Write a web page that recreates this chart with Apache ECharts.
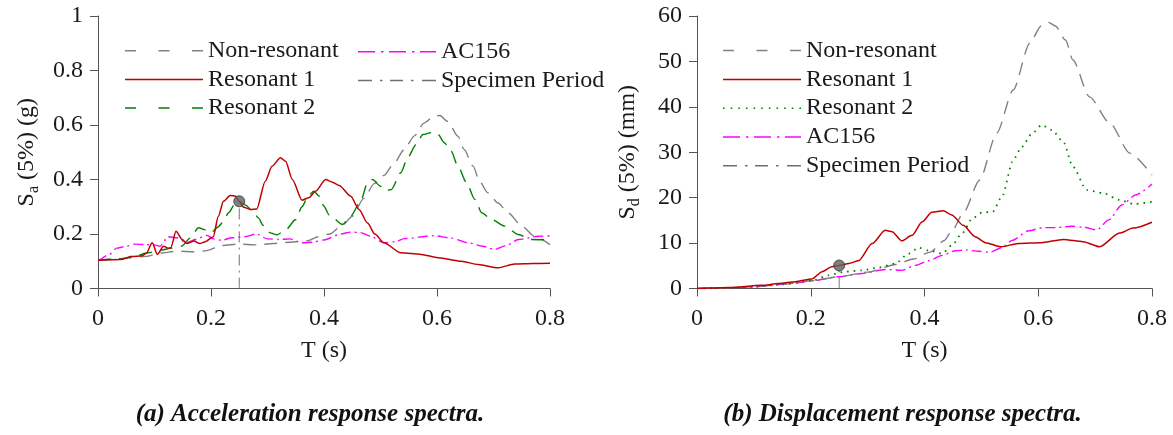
<!DOCTYPE html>
<html>
<head>
<meta charset="utf-8">
<script src="https://cdn.jsdelivr.net/npm/echarts@6/dist/echarts.min.js"></script>
<style>
html,body{margin:0;padding:0;background:#fff;}
#a{position:absolute;left:0;top:0;width:650px;height:435px;z-index:2;}
#b{position:absolute;left:598px;top:0;width:575px;height:435px;z-index:1;}
</style>
</head>
<body>
<div id="a"></div>
<div id="b"></div>
<script>
// ---------- data (T in s) ----------
const xTicks = [0, 0.2, 0.4, 0.6, 0.8];

// (a) Acceleration response spectra, Sa (g)
const accNonRes = [[0,0.105],[0.03,0.108],[0.06,0.113],[0.085,0.118],[0.11,0.13],[0.14,0.137],[0.17,0.135],[0.19,0.138],[0.22,0.158],[0.25,0.163],[0.28,0.16],[0.31,0.165],[0.34,0.17],[0.37,0.175],[0.39,0.19],[0.41,0.2],[0.434,0.235],[0.45,0.265],[0.47,0.33],[0.489,0.385],[0.506,0.415],[0.524,0.46],[0.542,0.51],[0.56,0.56],[0.577,0.607],[0.595,0.633],[0.605,0.635],[0.619,0.613],[0.637,0.559],[0.648,0.51],[0.664,0.449],[0.675,0.394],[0.69,0.351],[0.708,0.314],[0.726,0.278],[0.75,0.229],[0.773,0.192],[0.8,0.161]];
const accRes1 = [[0,0.104],[0.04,0.106],[0.06,0.117],[0.078,0.12],[0.085,0.128],[0.096,0.168],[0.105,0.125],[0.116,0.155],[0.124,0.148],[0.129,0.15],[0.138,0.21],[0.149,0.18],[0.157,0.165],[0.17,0.174],[0.18,0.165],[0.19,0.172],[0.204,0.19],[0.213,0.265],[0.222,0.32],[0.234,0.341],[0.243,0.339],[0.25,0.32],[0.258,0.298],[0.27,0.29],[0.281,0.292],[0.296,0.394],[0.308,0.449],[0.323,0.48],[0.332,0.467],[0.344,0.4],[0.361,0.324],[0.373,0.333],[0.385,0.357],[0.403,0.4],[0.415,0.39],[0.427,0.378],[0.447,0.339],[0.462,0.29],[0.477,0.24],[0.49,0.2],[0.506,0.168],[0.536,0.131],[0.572,0.125],[0.602,0.113],[0.643,0.1],[0.673,0.088],[0.708,0.076],[0.738,0.09],[0.77,0.092],[0.8,0.093]];
const accRes2 = [[0,0.104],[0.04,0.109],[0.065,0.12],[0.089,0.131],[0.11,0.14],[0.13,0.148],[0.148,0.155],[0.163,0.185],[0.178,0.223],[0.19,0.215],[0.2,0.205],[0.212,0.225],[0.222,0.245],[0.231,0.278],[0.243,0.312],[0.252,0.317],[0.262,0.305],[0.273,0.284],[0.284,0.259],[0.292,0.232],[0.305,0.204],[0.317,0.197],[0.332,0.215],[0.35,0.253],[0.361,0.3],[0.373,0.343],[0.382,0.357],[0.391,0.34],[0.4,0.302],[0.409,0.27],[0.433,0.235],[0.447,0.265],[0.465,0.32],[0.477,0.389],[0.486,0.4],[0.5,0.375],[0.51,0.36],[0.519,0.363],[0.536,0.425],[0.548,0.48],[0.563,0.528],[0.575,0.565],[0.59,0.572],[0.602,0.565],[0.613,0.535],[0.625,0.504],[0.637,0.449],[0.652,0.389],[0.667,0.327],[0.679,0.278],[0.697,0.253],[0.72,0.229],[0.744,0.198],[0.767,0.18],[0.8,0.178]];
const accAC156 = [[0,0.1],[0.02,0.125],[0.033,0.148],[0.05,0.155],[0.065,0.163],[0.086,0.161],[0.1,0.16],[0.11,0.155],[0.124,0.19],[0.139,0.186],[0.157,0.168],[0.172,0.18],[0.193,0.195],[0.204,0.182],[0.219,0.177],[0.237,0.186],[0.26,0.19],[0.28,0.2],[0.3,0.182],[0.32,0.18],[0.34,0.182],[0.36,0.168],[0.38,0.17],[0.4,0.178],[0.43,0.2],[0.447,0.207],[0.465,0.205],[0.482,0.192],[0.506,0.168],[0.527,0.172],[0.542,0.183],[0.595,0.194],[0.625,0.185],[0.655,0.168],[0.681,0.155],[0.702,0.143],[0.723,0.158],[0.744,0.18],[0.78,0.192],[0.8,0.193]];
const accSpecimen = [[0.25,0],[0.25,0.32]];

// (b) Displacement response spectra, Sd (mm)
const dispNonRes = [[0,0],[0.05,0.1],[0.1,0.4],[0.15,0.9],[0.2,1.7],[0.25,2.6],[0.3,3.6],[0.35,5.3],[0.38,6.5],[0.41,8],[0.434,10.5],[0.448,12.6],[0.468,16.6],[0.497,23.9],[0.527,34.2],[0.556,43.7],[0.585,54],[0.605,57.8],[0.618,58.6],[0.63,57.8],[0.648,54.7],[0.661,50.3],[0.69,42.2],[0.726,36.4],[0.761,29.8],[0.8,25]];
const dispRes1 = [[0,0],[0.056,0.2],[0.114,0.7],[0.144,1.1],[0.173,1.5],[0.202,2.1],[0.22,3.7],[0.237,4.8],[0.25,5.07],[0.267,5.5],[0.284,6.1],[0.308,9.9],[0.331,12.8],[0.343,12.5],[0.36,10.5],[0.378,11.7],[0.396,14.7],[0.413,16.8],[0.433,17.1],[0.448,16.2],[0.468,13.9],[0.489,11.4],[0.507,10.1],[0.535,9.2],[0.565,9.9],[0.605,10.1],[0.644,10.8],[0.679,10.3],[0.708,9.2],[0.743,12.2],[0.767,13.3],[0.8,14.6]];
const dispRes2 = [[0,0],[0.05,0.1],[0.1,0.4],[0.15,0.9],[0.202,1.7],[0.231,2.9],[0.26,3.7],[0.29,4.0],[0.319,4.6],[0.349,5.5],[0.372,7.7],[0.39,9.0],[0.407,8.4],[0.431,7.7],[0.448,9.5],[0.466,12.1],[0.484,15.4],[0.501,16.7],[0.52,16.9],[0.536,20.2],[0.556,28.3],[0.571,31.2],[0.589,34.1],[0.606,36.0],[0.624,34.9],[0.644,32.3],[0.661,26.8],[0.685,21.7],[0.714,21.0],[0.743,19.5],[0.767,18.6],[0.8,19.1]];
const dispAC156 = [[0,0],[0.05,0.1],[0.1,0.35],[0.173,1.2],[0.202,1.7],[0.249,2.6],[0.29,3.3],[0.331,4.2],[0.36,4.0],[0.384,5.1],[0.407,6.1],[0.431,7.3],[0.454,8.3],[0.474,8.5],[0.495,8.2],[0.515,8.0],[0.536,9.0],[0.554,10.6],[0.583,12.7],[0.607,13.4],[0.63,13.4],[0.659,13.7],[0.68,13.5],[0.703,12.9],[0.724,15.1],[0.747,18.4],[0.771,20.6],[0.8,23]];
const dispSpecimen = [[0.25,0],[0.25,5.07]];

// ---------- styling ----------
const FONT = '"Liberation Serif", "Times New Roman", serif';
const TXT = '#1a1a1a';
const AX = '#555';
const C = {nonres:'#808080', res1:'#c00000', res2:'#008000', ac:'#ff00ff', spec:'#707070'};

function xAxisOpt(){
  return {
    type:'value', min:0, max:0.8, interval:0.2,
    name:'T (s)', nameLocation:'middle', nameGap:50,
    nameTextStyle:{fontFamily:FONT, fontSize:24, color:TXT},
    axisLine:{show:true, onZero:false, lineStyle:{color:AX, width:1}},
    axisTick:{show:true, inside:false, length:8, lineStyle:{color:AX}},
    axisLabel:{fontFamily:FONT, fontSize:24, color:TXT, margin:18},
    splitLine:{show:false}
  };
}
function yAxisOpt(max, interval, name){
  return {
    type:'value', min:0, max:max, interval:interval,
    name:name, nameLocation:'middle', nameGap:54,
    nameTextStyle:{fontFamily:FONT, fontSize:24, color:TXT,
      rich:{m:{fontFamily:FONT, fontSize:24, color:TXT},
            s:{fontFamily:FONT, fontSize:16, color:TXT, padding:[14,0,0,0]}}},
    axisLine:{show:true, lineStyle:{color:AX, width:1}},
    axisTick:{show:true, inside:false, length:8, lineStyle:{color:AX}},
    axisLabel:{fontFamily:FONT, fontSize:24, color:TXT, margin:15},
    splitLine:{show:false}
  };
}
function lineSeries(name, data, color, type, width, z){
  return {type:'line', name:name, data:data, symbol:'none', smooth:0.25, smoothMonotone:'x',
    lineStyle:{color:color, width:width, type:type}, itemStyle:{color:color}, z:z||2,
    emphasis:{disabled:true}, animation:false};
}
function markerSeries(pt){
  return {type:'scatter', name:'marker', data:[pt], symbol:'circle', symbolSize:11,
    itemStyle:{color:'#5f5f5f', borderColor:'#333', borderWidth:1}, z:10, animation:false};
}

// legend icon shapes (segments [start, length] along a 78 px wide key)
function segPath(segs){
  return 'path://' + segs.map(s => 'M' + s[0] + ',0h' + s[1] + 'v1.5h-' + s[1] + 'z').join('');
}
const ICON_SOLID = segPath([[0,78]]);
const ICON_DASH = segPath([[0,11],[33.5,11],[67,11]]);
const ICON_DASHDOT = segPath([[0,17],[23,2.5],[31,17],[54,2.5],[62,16]]);
const ICON_SPEC = segPath([[0,14],[22,2.5],[32,13],[53,2.5],[64,14]]);
const ICON_DOT = segPath(Array.from({length:11}, (_, i) => [i * 7.64, 1.6]));

// one legend component per entry so each carries its own key pattern
function legendItem(left, top, name, icon, color){
  return {show:true, orient:'vertical', left:left, top:top, padding:0, itemGap:0,
    itemWidth:78, itemHeight:1.5, selectedMode:false,
    icon:icon, itemStyle:{color:color, borderWidth:0},
    textStyle:{fontFamily:FONT, fontSize:24, color:TXT, lineHeight:28.6},
    data:[name]};
}
function caption(x, text){
  return {type:'text', x:x, y:415, style:{text:text, fontFamily:FONT, fontSize:25,
    fontWeight:'bold', fontStyle:'italic', fill:'#111', align:'center', verticalAlign:'middle'}};
}

const DASH = [13, 8], DASHDOT = [10, 4, 2, 4], SPECDASH = [11, 5, 2, 5], DOT = [1.6, 5];

// ---------- chart (a) ----------
const chartA = echarts.init(document.getElementById('a'), null, {renderer:'canvas'});
chartA.setOption({
  backgroundColor:'transparent', animation:false,
  grid:{left:98, top:16, width:452, height:272.5, containLabel:false},
  xAxis: xAxisOpt(),
  yAxis: yAxisOpt(1, 0.2, '{m|S}{s|a}{m| (5%) (g)}'),
  legend:[
    legendItem(125, 36.5, 'Non-resonant', ICON_DASH, C.nonres),
    legendItem(125, 65.1, 'Resonant 1', ICON_SOLID, C.res1),
    legendItem(125, 93.7, 'Resonant 2', ICON_DASH, C.res2),
    legendItem(358, 37.5, 'AC156', ICON_DASHDOT, C.ac),
    legendItem(358, 66.1, 'Specimen Period', ICON_SPEC, C.spec)
  ],
  series:[
    lineSeries('AC156', accAC156, C.ac, DASHDOT, 1.4, 2),
    lineSeries('Non-resonant', accNonRes, C.nonres, DASH, 1.4, 3),
    lineSeries('Resonant 2', accRes2, C.res2, DASH, 1.4, 4),
    lineSeries('Resonant 1', accRes1, C.res1, 'solid', 1.5, 5),
    lineSeries('Specimen Period', accSpecimen, C.spec, SPECDASH, 1, 6),
    markerSeries(accSpecimen[1])
  ],
  graphic:[caption(310, '(a) Acceleration response spectra.')]
});

// ---------- chart (b) ----------
const chartB = echarts.init(document.getElementById('b'), null, {renderer:'canvas'});
chartB.setOption({
  backgroundColor:'#fff', animation:false,
  grid:{left:99, top:16, width:455, height:272.5, containLabel:false},
  xAxis: xAxisOpt(),
  yAxis: yAxisOpt(60, 10, '{m|S}{s|d}{m| (5%) (mm)}'),
  legend:[
    legendItem(125, 36.3, 'Non-resonant', ICON_DASH, C.nonres),
    legendItem(125, 65.1, 'Resonant 1', ICON_SOLID, C.res1),
    legendItem(125, 93.9, 'Resonant 2', ICON_DOT, C.res2),
    legendItem(125, 122.7, 'AC156', ICON_DASHDOT, C.ac),
    legendItem(125, 151.5, 'Specimen Period', ICON_SPEC, C.spec)
  ],
  series:[
    lineSeries('AC156', dispAC156, C.ac, DASHDOT, 1.4, 2),
    lineSeries('Non-resonant', dispNonRes, C.nonres, DASH, 1.4, 3),
    lineSeries('Resonant 2', dispRes2, C.res2, DOT, 1.8, 4),
    lineSeries('Resonant 1', dispRes1, C.res1, 'solid', 1.5, 5),
    lineSeries('Specimen Period', dispSpecimen, C.spec, SPECDASH, 1, 6),
    markerSeries(dispSpecimen[1])
  ],
  graphic:[caption(304.5, '(b) Displacement response spectra.')]
});
</script>
</body>
</html>
